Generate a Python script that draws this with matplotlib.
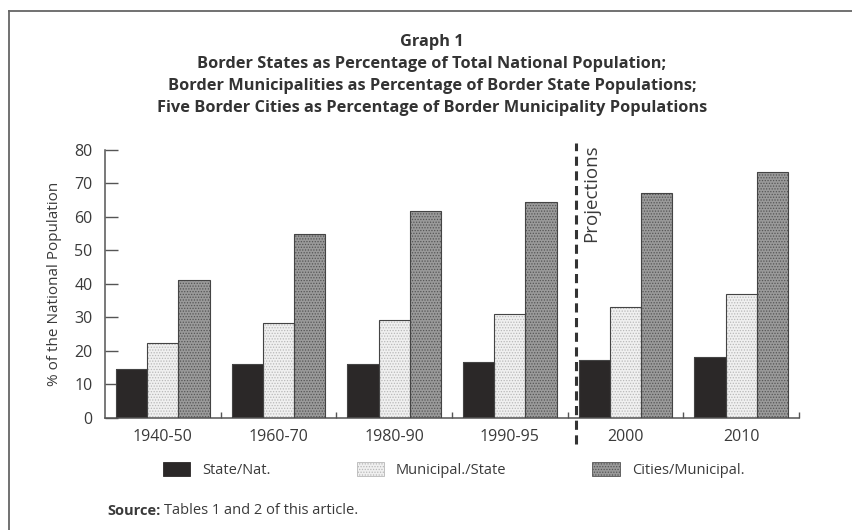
import matplotlib
matplotlib.use("Agg")
import matplotlib.pyplot as plt
import numpy as np
from matplotlib.lines import Line2D
from matplotlib.patches import Patch

plt.rcParams["font.family"] = ["Open Sans", "DejaVu Sans"]
plt.rcParams["hatch.linewidth"] = 0.6

periods = ["1940-50", "1960-70", "1980-90", "1990-95", "2000", "2010"]
state_nat = [14.5, 16.1, 16.1, 16.7, 17.2, 18.0]
muni_state = [22.2, 28.4, 29.2, 31.1, 33.0, 36.9]
cities_muni = [41.2, 54.9, 61.9, 64.6, 67.2, 73.5]
series_names = ["State/Nat.", "Municipal./State", "Cities/Municipal."]

title_lines = [
    "Graph 1",
    "Border States as Percentage of Total National Population;",
    "Border Municipalities as Percentage of Border State Populations;",
    "Five Border Cities as Percentage of Border Municipality Populations",
]

text_c = "#3a3a3a"
line_c = "#555555"
styles = [
    dict(face="#2b2828", hatch=None, hcol="#2b2828"),
    dict(face="#f0f0f0", hatch="......", hcol="#b8b8b8"),
    dict(face="#9a9a9a", hatch="......", hcol="#555555"),
]

fig = plt.figure(figsize=(8.52, 5.30), dpi=100)
ax = fig.add_axes([0.1232, 0.2119, 0.8146, 0.5051])

x = np.arange(len(periods))
w = 0.27
handles = []
for i, (vals, st) in enumerate(zip([state_nat, muni_state, cities_muni], styles)):
    pos = x + (i - 1) * w
    # fill + dotted texture
    ax.bar(pos, vals, w, color=st["face"], hatch=st["hatch"],
           edgecolor=st["hcol"], linewidth=0, zorder=2)
    # outline
    ax.bar(pos, vals, w, fill=False, edgecolor="#444444", linewidth=0.8, zorder=3)
    handles.append(Patch(facecolor=st["face"], hatch=st["hatch"],
                         edgecolor=st["hcol"], linewidth=0.6))

ax.set_xlim(-0.5, len(periods) - 0.5)
ax.set_ylim(0, 80)
ax.set_yticks(np.arange(0, 81, 10))
ax.set_xticks(x)
ax.set_xticklabels(periods)
ax.set_xticks(np.arange(0.5, len(periods), 1), minor=True)
ax.tick_params(axis="x", which="major", length=0, pad=8, labelsize=11.5, labelcolor=text_c)
ax.tick_params(axis="x", which="minor", direction="in", length=4, width=1, color=line_c)
ax.tick_params(axis="y", direction="in", length=9, width=1, color=line_c,
               pad=9, labelsize=11.5, labelcolor=text_c)
for s in ["top", "right"]:
    ax.spines[s].set_visible(False)
for s in ["left", "bottom"]:
    ax.spines[s].set_color(line_c)
    ax.spines[s].set_linewidth(1.1)
ax.set_ylabel("% of the National Population", fontsize=11, color=text_c, labelpad=9)

# projections divider
ax.axvline(3.57, ymin=-0.10, ymax=1.026, color="#333333", lw=2.2,
           ls=(0, (3, 1.8)), clip_on=False, zorder=4)
ax.text(3.625, 81.8, "Projections", rotation=90, va="top", ha="left",
        fontsize=13.5, color=text_c)

# title
for k, line in enumerate(title_lines):
    fig.text(0.507, 1 - (42 + 22 * k) / 530, line, ha="center", va="center",
             fontsize=11.8, fontweight="bold", color="#333333")

fig.legend(handles, series_names, loc="center left",
           bbox_to_anchor=(166 / 852 - 0.004, 1 - 470 / 530), ncol=3,
           frameon=False, fontsize=10.5, handlelength=1.9, handleheight=1.1,
           handletextpad=0.8, columnspacing=5.9, labelcolor=text_c,
           borderpad=0, borderaxespad=0)

# source note: bold label followed by plain text
src = fig.text(107 / 852, 1 - 511 / 530, "Source:", fontsize=10.5, fontweight="bold",
               color=text_c, va="center", ha="left")
fig.canvas.draw()
bb = src.get_window_extent().transformed(fig.transFigure.inverted())
fig.text(bb.x1 + 4 / 852, 1 - 511 / 530, "Tables 1 and 2 of this article.",
         fontsize=10.5, color=text_c, va="center", ha="left")

# page frame (top and left)
fig.add_artist(Line2D([9 / 852, 9 / 852], [0, 1 - 11 / 530], transform=fig.transFigure,
                      color="#666666", lw=1.3))
fig.add_artist(Line2D([9 / 852, 1], [1 - 11 / 530, 1 - 11 / 530], transform=fig.transFigure,
                      color="#666666", lw=1.3))

fig.savefig("out.png", dpi=100)
